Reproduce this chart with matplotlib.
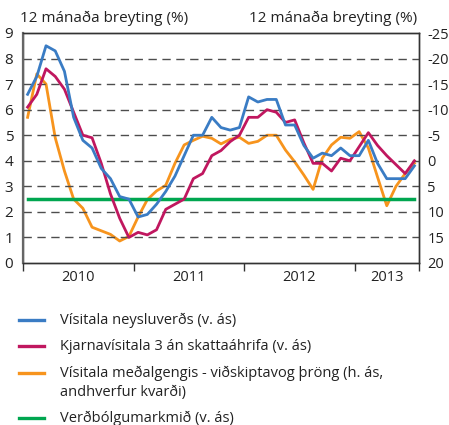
import matplotlib
matplotlib.use("Agg")
import matplotlib.pyplot as plt
from matplotlib.lines import Line2D
import numpy as np

plt.rcParams['font.family'] = ['Open Sans', 'DejaVu Sans']
plt.rcParams['axes.unicode_minus'] = False

# Monthly data Jan 2010 - Jul 2013
cpi = [6.6, 7.3, 8.5, 8.3, 7.5, 5.7, 4.8, 4.5, 3.7, 3.3, 2.6, 2.5,
       1.8, 1.9, 2.3, 2.8, 3.4, 4.2, 5.0, 5.0, 5.7, 5.3, 5.2, 5.3,
       6.5, 6.3, 6.4, 6.4, 5.4, 5.4, 4.6, 4.1, 4.3, 4.2, 4.5, 4.2,
       4.2, 4.8, 3.9, 3.3, 3.3, 3.3, 3.8]
core3 = [6.1, 6.6, 7.6, 7.3, 6.8, 5.9, 5.0, 4.9, 3.9, 2.7, 1.75, 1.0,
         1.2, 1.1, 1.3, 2.1, 2.3, 2.5, 3.3, 3.5, 4.2, 4.4, 4.75, 5.0,
         5.7, 5.7, 6.0, 5.9, 5.5, 5.6, 4.7, 3.9, 3.9, 3.6, 4.1, 4.0,
         4.55, 5.1, 4.6, 4.2, 3.85, 3.5, 4.0]
exch = [-8.5, -17.0, -15.0, -4.5, 2.0, 7.5, 9.3, 13.0, 13.7, 14.4, 15.7, 14.8,
        11.0, 7.6, 5.9, 4.8, 0.5, -3.1, -4.0, -4.8, -4.4, -3.3, -4.2, -4.6,
        -3.4, -3.8, -5.0, -5.0, -2.1, 0.2, 2.8, 5.6, -0.5, -3.1, -4.6, -4.4,
        -5.7, -2.5, 3.2, 8.8, 5.0, 2.5, 0.5]
target = [2.5] * 43

years = ['2010', '2011', '2012', '2013']
year_centers = [5.5, 17.5, 29.5, 39.0]
year_bounds = [-0.5, 11.5, 23.5, 35.5, 42.5]

left_ticks = list(range(0, 10))
right_ticks = list(range(-25, 25, 5))

labels = ['Vísitala neysluverðs (v. ás)',
          'Kjarnavísitala 3 án skattaáhrifa (v. ás)',
          'Vísitala meðalgengis - viðskiptavog þröng (h. ás,\nandhverfur kvarði)',
          'Verðbólgumarkmið (v. ás)']

c_blue = '#3a7cc4'
c_mag = '#c0175f'
c_orange = '#f7941d'
c_green = '#00a650'

W, H = 449, 425
fig = plt.figure(figsize=(W / 100, H / 100), dpi=100)
ax = fig.add_axes([23 / W, 1 - 263 / H, (419 - 23) / W, (263 - 33) / H])
ax2 = ax.twinx()

x = np.arange(len(cpi))

for v in range(1, 9):
    ax.axhline(v, color='#4d4d4d', lw=1.0, dashes=(6, 4), zorder=1)

ax.plot(x, target, color=c_green, lw=2.5, zorder=3)
ax2.plot(x, exch, color=c_orange, lw=2.0, zorder=3)
ax.plot(x, core3, color=c_mag, lw=2.0, zorder=4)
ax.plot(x, cpi, color=c_blue, lw=2.0, zorder=5)

ax.set_zorder(ax2.get_zorder() + 1)
ax.patch.set_visible(False)

ax.set_xlim(-0.5, 42.5)
ax.set_ylim(0, 9)
ax2.set_ylim(20, -25)

ax.set_yticks(left_ticks)
ax.set_yticklabels([str(t) for t in left_ticks])
ax2.set_yticks(right_ticks)
ax2.set_yticklabels([str(t) for t in right_ticks])

ax.set_xticks(year_bounds)
ax.set_xticklabels([])
ax.set_xticks(year_centers, minor=True)
ax.set_xticklabels(years, minor=True)
ax.tick_params(axis='x', which='major', length=6, width=1, direction='out', color='#333333')
ax.tick_params(axis='x', which='minor', length=0, pad=5, labelsize=10.5, colors='#222222')
ax.tick_params(axis='y', length=0, pad=7, labelsize=11, colors='#222222')
ax2.tick_params(axis='y', length=0, pad=6, labelsize=10.5, colors='#222222')

for a in (ax, ax2):
    for s in a.spines.values():
        s.set_color('#333333')
        s.set_linewidth(1.0)
ax.spines['left'].set_linewidth(1.6)
ax.spines['left'].set_color('#666666')

fig.text(20 / W, 1 - 18 / H, '12 mánaða breyting (%)', ha='left', va='center',
         fontsize=11, color='#222222')
fig.text(417 / W, 1 - 18 / H, '12 mánaða breyting (%)', ha='right', va='center',
         fontsize=11, color='#222222')

# legend drawn manually
colors = [c_blue, c_mag, c_orange, c_green]
rows = [320, 346, 373, 418]
for col, lab, yy in zip(colors, labels, rows):
    fig.add_artist(Line2D([19 / W, 44 / W], [1 - yy / H, 1 - yy / H],
                          color=col, lw=2.4, transform=fig.transFigure))
    fig.text(60 / W, 1 - (yy - 7) / H, lab, ha='left', va='top',
             fontsize=10.5, color='#222222', linespacing=1.3)

fig.savefig('out.png', dpi=100)
